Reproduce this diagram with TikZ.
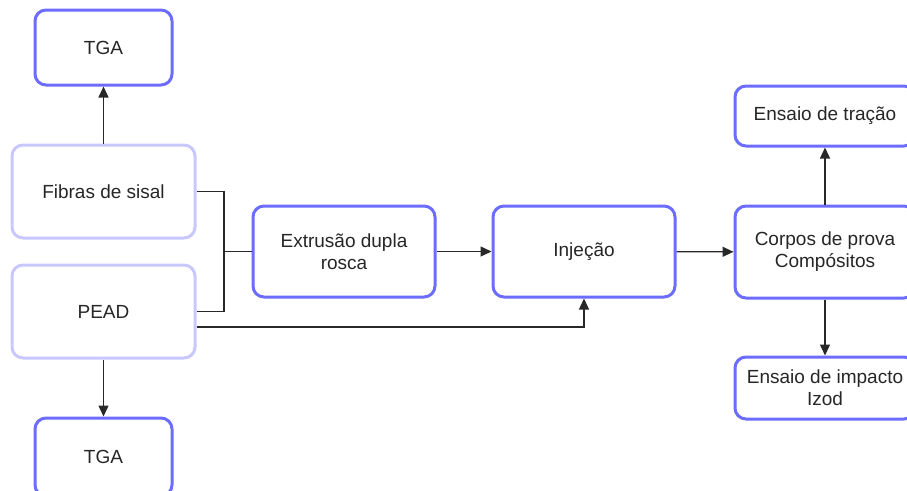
\documentclass[tikz,border=0pt]{standalone}
\usepackage{fontspec}
\setmainfont{Liberation Sans}
\usetikzlibrary{arrows.meta}

\definecolor{boxblue}{RGB}{108,108,255}
\definecolor{boxlight}{RGB}{200,200,255}
\definecolor{linegray}{RGB}{40,40,40}

\begin{document}
\begin{tikzpicture}[x=1pt,y=-1pt,
  every node/.style={align=center,font=\fontsize{19}{22}\selectfont,text=black!85},
  stage/.style={draw=boxblue,line width=3pt,rounded corners=11pt,fill=white,inner sep=0pt},
  rawbox/.style={stage,draw=boxlight},
  flow/.style={draw=linegray,line width=1.3pt},
  arr/.style={flow,-{Triangle[length=11pt,width=10pt]}}]
\useasboundingbox (0,0) rectangle (907,490);

% materias-primas
\node[stage,minimum width=137pt,minimum height=75pt] (tgaA) at (103.5,47.5) {TGA};
\node[rawbox,minimum width=183pt,minimum height=93pt] (fibras) at (103.5,191.5) {Fibras de sisal};
\node[rawbox,minimum width=183pt,minimum height=93pt] (pead) at (103.5,311.5) {PEAD};
\node[stage,minimum width=137pt,minimum height=78pt] (tgaB) at (103.5,457) {TGA};

% processamento
\node[stage,minimum width=182pt,minimum height=91pt] (extr) at (344,251.5) {Extrus\~ao dupla\\rosca};
\node[stage,minimum width=182pt,minimum height=91pt] (inj) at (584,251.5) {Inje\c{c}\~ao};
\node[stage,minimum width=180pt,minimum height=92pt] (corpos) at (825,252) {Corpos de prova\\Comp\'ositos};

% ensaios
\node[stage,minimum width=180pt,minimum height=60pt] (tracao) at (825,116) {Ensaio de tra\c{c}\~ao};
\node[stage,minimum width=180pt,minimum height=62pt] (impacto) at (825,388) {Ensaio de impacto\\Izod};

\coordinate (join) at (224,251.5);

\draw[arr] (fibras) -- (tgaA);
\draw[arr] (pead) -- (tgaB);
\draw[flow] (fibras.east) -| (join) -- (extr.west);
\draw[flow] (pead.east) -| (join);
\draw[arr] ([yshift=-15.5pt]pead.east) -| (inj.south);
\draw[arr] (extr) -- (inj);
\draw[arr] (inj) -- (corpos);
\draw[arr] (corpos) -- (tracao);
\draw[arr] (corpos) -- (impacto);
\end{tikzpicture}
\end{document}
